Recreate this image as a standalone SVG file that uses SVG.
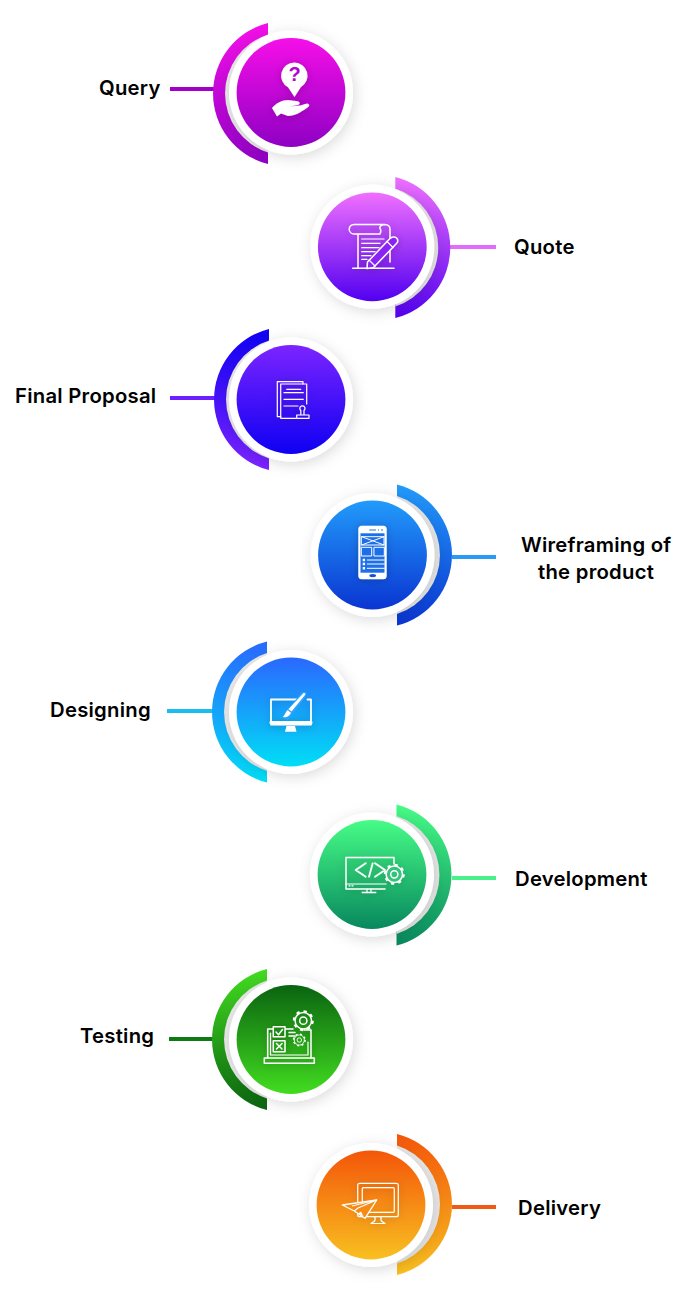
<svg xmlns="http://www.w3.org/2000/svg" xmlns:xlink="http://www.w3.org/1999/xlink" width="700" height="1300" viewBox="0 0 700 1300">
<style>
.lbl{font-family:"Inter","Open Sans","Liberation Sans",sans-serif;font-weight:600;font-size:20.3px;letter-spacing:.25px;fill:#000}
.conn{stroke-width:4;fill:none}
.ico{fill:none;stroke:#fff;stroke-width:1.5;stroke-linejoin:round;stroke-linecap:round}
.thin{stroke-width:1.2}
.solid{fill:#fff;stroke:none}
.disc{filter:url(#soft)}
.icoS{filter:url(#iconShade)}
</style>
<defs>
<filter id="soft" x="-30%" y="-30%" width="160%" height="160%"><feDropShadow dx="2" dy="3" stdDeviation="7" flood-color="#000" flood-opacity=".14"/></filter>
<filter id="iconShade" x="-50%" y="-50%" width="200%" height="200%"><feDropShadow dx="0" dy="1" stdDeviation="4" flood-color="#000" flood-opacity=".22"/></filter>
<linearGradient id="c1" x1="0" y1="0" x2="0" y2="1"><stop offset="0" stop-color="#f60fe8"/><stop offset="1" stop-color="#8f00c4"/></linearGradient>
<linearGradient id="c2" x1="0" y1="0" x2="0" y2="1"><stop offset="0" stop-color="#f070ff"/><stop offset="1" stop-color="#5200f0"/></linearGradient>
<linearGradient id="c3" x1="0" y1="0" x2="0" y2="1"><stop offset="0" stop-color="#7c24ff"/><stop offset="1" stop-color="#0e00f2"/></linearGradient>
<linearGradient id="a3" x1="0" y1="0" x2="0" y2="1"><stop offset="0" stop-color="#0e00f2"/><stop offset="1" stop-color="#7c24ff"/></linearGradient>
<linearGradient id="c4" x1="0" y1="0" x2="0" y2="1"><stop offset="0" stop-color="#229bfa"/><stop offset="1" stop-color="#0a35d2"/></linearGradient>
<linearGradient id="c5" x1="0" y1="0" x2="0" y2="1"><stop offset="0" stop-color="#2a68ff"/><stop offset="1" stop-color="#00def5"/></linearGradient>
<linearGradient id="c6" x1="0" y1="0" x2="0" y2="1"><stop offset="0" stop-color="#46fc86"/><stop offset="1" stop-color="#08885e"/></linearGradient>
<linearGradient id="c7" x1="0" y1="0" x2="0" y2="1"><stop offset="0" stop-color="#0a6410"/><stop offset="1" stop-color="#42dc20"/></linearGradient>
<linearGradient id="a7" x1="0" y1="0" x2="0" y2="1"><stop offset="0" stop-color="#42dc20"/><stop offset="1" stop-color="#0a6410"/></linearGradient>
<linearGradient id="c8" x1="0" y1="0" x2="0" y2="1"><stop offset="0" stop-color="#f4560a"/><stop offset="1" stop-color="#f8c020"/></linearGradient>
<path id="arcL" d="M-23,-70.5A72.7,72.7 0 0 0 -23,70.5Z"/>
<path id="arcR" d="M23,-70.5A72.7,72.7 0 0 1 23,70.5Z"/>
<path id="greyL" d="M-23,-59A62,62 0 0 0 -23,59Z" fill="#e8e8e8"/>
<path id="greyR" d="M23,-59A62,62 0 0 1 23,59Z" fill="#e8e8e8"/>
<circle id="plate" r="62" fill="#fff"/>
<g id="gear"><circle r="8.2" fill="none" stroke="#fff" stroke-width="1.5"/><circle r="9.3" fill="none" stroke="#fff" stroke-width="2.4" stroke-dasharray="3.2 4.1"/><circle r="3.6" fill="none" stroke="#fff" stroke-width="1.5"/></g>
</defs>

<g id="connectors">
<path class="conn" stroke="#a000c8" d="M170,89H214"/>
<path class="conn" stroke="#e46cfc" d="M450,247H496"/>
<path class="conn" stroke="#6c20ff" d="M170,398H215"/>
<path class="conn" stroke="#2a9af5" d="M452,557H496"/>
<path class="conn" stroke="#19bdf0" d="M167,711H213"/>
<path class="conn" stroke="#4af08a" d="M452,878H496"/>
<path class="conn" stroke="#0e7a12" d="M169,1039H213"/>
<path class="conn" stroke="#f05a14" d="M452,1207H496"/>
</g>

<g id="node-query">
<use href="#arcL" x="291" y="93.5" fill="url(#c1)"/>
<use href="#greyL" x="291" y="93.5"/>
<use href="#plate" x="291" y="92.5" class="disc"/>
<circle cx="291" cy="92.5" r="54.4" fill="url(#c1)"/>
<g class="icoS">
<path class="solid" d="M294.3,62.5a13.2,13.2 0 0 1 6.5,24.7L294.5,97L288,87.3a13.2,13.2 0 0 1 6.3,-24.8Z"/>
<path class="solid" d="M272,108C276,103 282,100 288,100L296,101C300,101 301,104 298,105L290,106.5L300,105.5L307,103.5C310,104 310,106 307,108C300,113 294,116 288,116L281,113.5L277,116.5Z"/>
</g>
<text x="294.5" y="81" text-anchor="middle" style="font-family:'Liberation Sans',sans-serif;font-weight:700;font-size:20px;fill:#b205cf">?</text>
<text class="lbl" x="99" y="95">Query</text>
</g>

<g id="node-quote">
<use href="#arcR" x="372.3" y="247.5" fill="url(#c2)"/>
<use href="#greyR" x="372.3" y="247.5"/>
<use href="#plate" x="372.3" y="246.8" class="disc"/>
<circle cx="372.3" cy="246.8" r="54.4" fill="url(#c2)"/>
<g class="ico icoS">
<path d="M354,234A4.8,4.8 0 0 1 354,224.4H385C388,224.4 390,226.5 390,229V262M354,234H380C381,232 381,230 380,228.5C379,226.5 382,224.5 385,224.4M358,234V268"/>
<path d="M352.7,268.3H394"/>
<path class="thin" d="M361.7,239H384M361.7,243.3H380M361.7,247.7H379M361.7,251.7H375M361.7,255.7H371M361.7,259.3H367"/>
<path fill="#8a22f5" d="M367.5,262L390,238.5C392,236.5 395,236.5 396.5,238C398,239.5 398,242 396,244L373.5,267.5L367,268.5Z"/>
<path class="thin" d="M369,260L375,266M387,241.5L393,247.5"/>
</g>
<text class="lbl" x="514" y="254">Quote</text>
</g>

<g id="node-final-proposal">
<use href="#arcL" x="292" y="399.5" fill="url(#a3)"/>
<use href="#greyL" x="292" y="399.5"/>
<use href="#plate" x="291" y="399.5" class="disc"/>
<circle cx="291" cy="399.5" r="54.4" fill="url(#c3)"/>
<g class="ico thin icoS">
<path d="M280.7,416.7H277.3V381.7H303V384"/>
<path d="M296,418.3H280.7V384H306.7V404"/>
<path d="M286.7,389.3H300.7M284,392.7H303.3M284,399.3H303.3M284,406H298"/>
<path d="M300.8,415V410.5A2.6,2.6 0 1 1 304,410.5V415M296.7,415H309V418.3H296.7Z"/>
</g>
<text class="lbl" x="15" y="403">Final Proposal</text>
</g>

<g id="node-wireframing">
<use href="#arcR" x="374" y="555" fill="url(#c4)"/>
<use href="#greyR" x="374" y="555"/>
<use href="#plate" x="372.5" y="555" class="disc"/>
<circle cx="372.5" cy="555" r="54.4" fill="url(#c4)"/>
<g class="icoS">
<rect x="358.3" y="525.7" width="28.4" height="53.6" rx="3.5" fill="#fff"/>
</g>
<rect x="360.5" y="533.3" width="24" height="39.4" fill="#1c6fe8"/>
<path d="M369.3,530H376M378,530H379M381,530H383" stroke="#6ea0ef" stroke-width="1.5" fill="none"/>
<ellipse cx="372.7" cy="575.6" rx="3.4" ry="1.6" fill="#1550d8"/>
<g class="ico thin" style="stroke-width:1">
<path d="M361.7,536.7H384V545H361.7ZM361.7,536.7L384,545M384,536.7L361.7,545"/>
<rect x="361.7" y="547.3" width="10" height="8.7"/>
<rect x="374.3" y="547.3" width="10" height="8.7"/>
<path d="M367.3,560H384.3M367.3,564H384.3M367.3,568.3H384.3"/>
</g>
<path class="solid" d="M362.7,558.8h2.4v2.4h-2.4zM362.7,562.8h2.4v2.4h-2.4zM362.7,567h2.4v2.4h-2.4z"/>
<text class="lbl"><tspan x="521" y="552">Wireframing of</tspan><tspan x="538" y="579">the product</tspan></text>
</g>

<g id="node-designing">
<use href="#arcL" x="290" y="712" fill="url(#c5)"/>
<use href="#greyL" x="290" y="712"/>
<use href="#plate" x="291" y="712" class="disc"/>
<circle cx="291" cy="712" r="54.4" fill="url(#c5)"/>
<g class="ico icoS" style="stroke-width:1.8">
<path d="M299,699.5H271V724.5H311V699.5H307.5"/>
<path d="M271,722.5H311" stroke-width="3"/>
</g>
<path class="solid" d="M286.5,726H295L296.5,731.8H285Z"/>
<path fill="#2ea2fa" stroke="none" d="M281,717.5L302,692H306.5L305.5,697L288,720Z"/>
<path class="solid" d="M303.3,693.2C304.5,692.4 305.8,693.4 305.2,694.8L291.5,711.5L288.4,709.2Z"/>
<path class="solid" d="M287.5,710L291,712.8C290,716 286,718 283,717C285,715 285.5,712 287.5,710Z"/>
<text class="lbl" x="50" y="717">Designing</text>
</g>

<g id="node-development">
<use href="#arcR" x="373.5" y="875" fill="url(#c6)"/>
<use href="#greyR" x="373.5" y="875"/>
<use href="#plate" x="372" y="874.5" class="disc"/>
<circle cx="372" cy="874.5" r="54.4" fill="url(#c6)"/>
<g class="ico icoS">
<path d="M385,889H346V857.5H394V864"/>
<path class="thin" d="M346,884H386M349,885.8H350M352,885.8H353M367,889V892.3M371,889V892.3"/>
<path d="M362.3,892.5H375.7"/>
<path stroke-width="1.8" d="M365.7,863.3L355.7,870L365.7,876.7M372.7,863.3L369,876.7M375,863.3L385,870L375,876.7"/>
<circle cx="394.3" cy="874.3" r="8" fill="#30c47a" stroke="none"/>
</g>
<use href="#gear" x="394.3" y="874.3"/>
<text class="lbl" x="515" y="886">Development</text>
</g>

<g id="node-testing">
<use href="#arcL" x="290" y="1039.5" fill="url(#a7)"/>
<use href="#greyL" x="290" y="1039.5"/>
<use href="#plate" x="291" y="1039.5" class="disc"/>
<circle cx="291" cy="1039.5" r="54.4" fill="url(#c7)"/>
<g class="ico icoS">
<path d="M273,1029H267.7V1058M285,1029H293M311,1058V1030H304"/>
<path class="thin" d="M270.5,1033V1055H308V1042"/>
<path d="M264.3,1058H314.3V1063.3H264.3Z"/>
<rect x="273.3" y="1026.7" width="11.7" height="10" fill="#1c8a14"/>
<rect x="273.3" y="1040.7" width="11.7" height="11" fill="#25a016"/>
<path d="M276,1032L278.5,1034.7L282.5,1029.5M276.5,1043.5L282,1049M282,1043.5L276.5,1049"/>
<path d="M289,1032.5H295M289,1036H295"/>
</g>
<use href="#gear" x="303.3" y="1020.7"/>
<g transform="translate(299.3,1040) scale(.62)"><use href="#gear"/></g>
<text class="lbl" x="80" y="1043">Testing</text>
</g>

<g id="node-delivery">
<use href="#arcR" x="374" y="1204.5" fill="url(#c8)"/>
<use href="#greyR" x="374" y="1204.5"/>
<use href="#plate" x="371" y="1205" class="disc"/>
<circle cx="371" cy="1205" r="54.4" fill="url(#c8)"/>
<g class="ico thin icoS">
<rect x="357.7" y="1183.3" width="40.6" height="33.4" rx="2"/>
<rect x="362.3" y="1187.7" width="32" height="24.6" rx="1"/>
<path d="M375,1216.7V1220C375,1221.5 373,1222 371,1223.5H385C383,1222 381,1221.5 381,1220V1216.7"/>
</g>
<path fill="#f58b14" stroke="#fff" stroke-width="1.3" stroke-linejoin="round" d="M342.3,1205L376.7,1200L365,1218.3L354.3,1211Z"/>
<path fill="none" stroke="#fff" stroke-width="1.1" d="M352,1206L376.7,1200L358,1208L354.3,1211"/>
<path class="solid" d="M358,1213.5L361,1211.5L363.5,1216Z"/>
<text class="lbl" x="518" y="1215">Delivery</text>
</g>
</svg>
